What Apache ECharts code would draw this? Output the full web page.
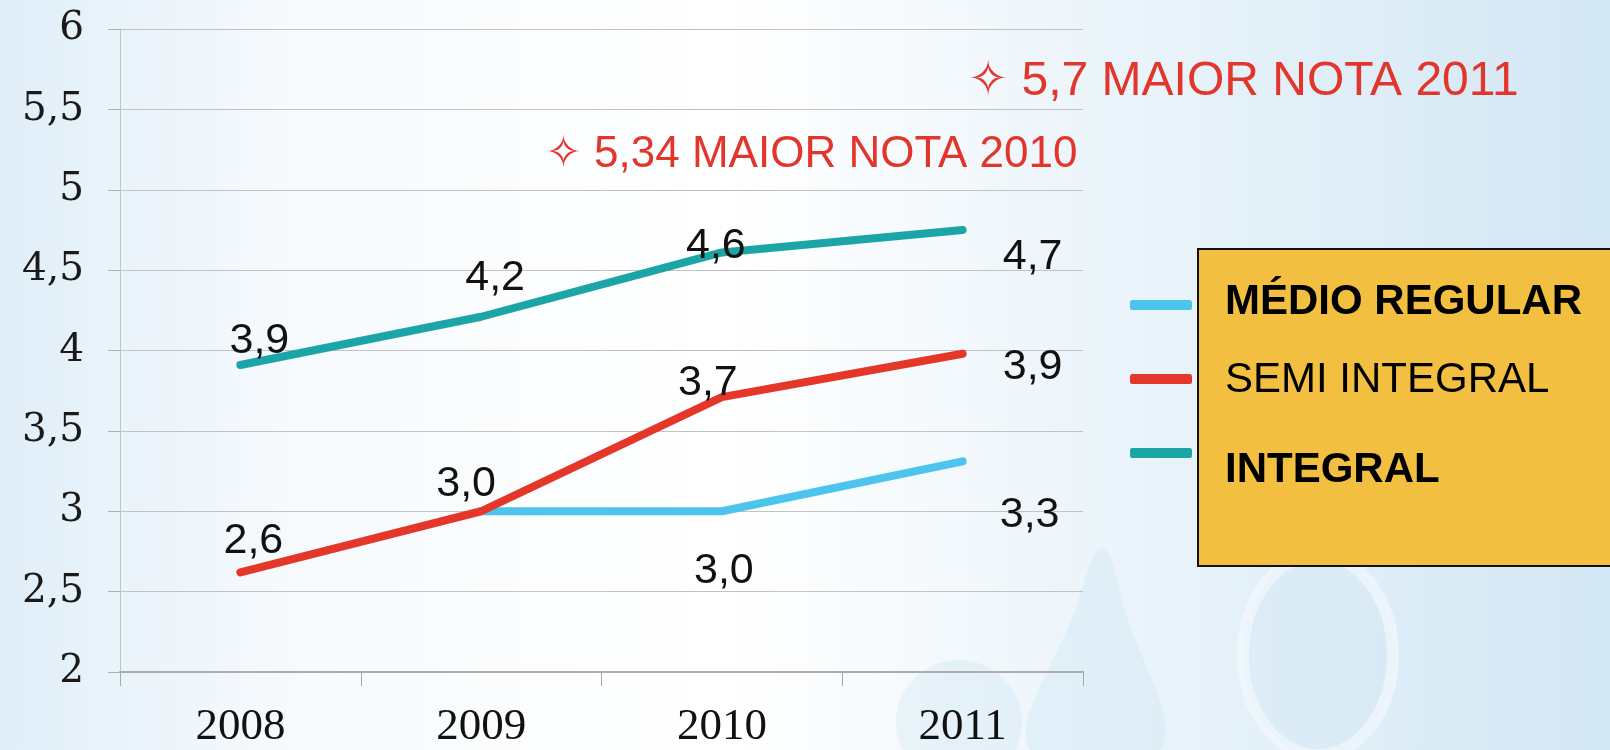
<!DOCTYPE html>
<html>
<head>
<meta charset="utf-8">
<script src="https://cdn.jsdelivr.net/npm/echarts@6/dist/echarts.min.js"></script>
<style>
  html, body { margin: 0; padding: 0; }
  #main { width: 1610px; height: 750px; }
</style>
</head>
<body>
<div id="main"></div>
<script>
// data
const YEARS = ['2008', '2009', '2010', '2011'];
const MEDIO_REGULAR = ['-', 3.0, 3.0, 3.31];
const SEMI_INTEGRAL = [2.62, 3.0, 3.71, 3.98];
const INTEGRAL = [3.91, 4.21, 4.61, 4.75];
// the labels printed on the chart (as written in the original)
const MEDIO_REGULAR_LABELS = ['', '', '3,0', '3,3'];
const SEMI_INTEGRAL_LABELS = ['2,6', '3,0', '3,7', '3,9'];
const INTEGRAL_LABELS = ['3,9', '4,2', '4,6', '4,7'];
const NOTES = ['\u2727 5,7 MAIOR NOTA 2011', '\u2727 5,34 MAIOR NOTA 2010'];
const BOX_LINES = ['MÉDIO REGULAR', 'SEMI INTEGRAL', 'INTEGRAL'];

var chartDom = document.getElementById('main');
var myChart = echarts.init(chartDom);

// label offsets from each point (px)
const offBlue = [[0, 0], [0, 0], [2, 60], [67, 54]];
const offRed = [[13, -31], [-15, -27], [-14, -14], [70, 13]];
const offTeal = [[19, -24], [14, -39], [-6, -6], [70, 27]];

function pts(values, labels, offs) {
  return values.map(function (v, i) {
    return {
      value: v,
      label: {
        show: labels[i] !== '',
        formatter: labels[i],
        position: 'inside',
        offset: offs[i]
      }
    };
  });
}

const labelStyle = {
  color: '#111',
  fontSize: 43,
  fontFamily: 'Liberation Sans, Arial, sans-serif'
};

function lineSeries(name, color, values, labels, offs) {
  return {
    name: name,
    type: 'line',
    data: pts(values, labels, offs),
    symbol: 'circle',
    symbolSize: 1,
    showSymbol: true,
    connectNulls: false,
    lineStyle: { color: color, width: 8, cap: 'round', join: 'round' },
    itemStyle: { color: color },
    label: labelStyle,
    emphasis: { disabled: true }
  };
}

function legendAt(name, top) {
  return {
    data: [name],
    left: 1130,
    top: top,
    padding: 0,
    icon: 'roundRect',
    itemWidth: 62,
    itemHeight: 10,
    textStyle: { fontSize: 8, color: '#333' }
  };
}

let option = {
  backgroundColor: new echarts.graphic.LinearGradient(0, 0, 1, 0, [
    { offset: 0, color: '#e0eef8' },
    { offset: 0.18, color: '#f6fafd' },
    { offset: 0.45, color: '#ffffff' },
    { offset: 0.65, color: '#eef6fb' },
    { offset: 1, color: '#d3e7f4' }
  ]),
  animation: false,
  grid: { left: 120, right: 527, top: 29, bottom: 72 },
  legend: [
    legendAt('MÉDIO REGULAR', 300),
    legendAt('SEMI INTEGRAL', 374),
    legendAt('INTEGRAL', 448)
  ],
  xAxis: {
    type: 'category',
    data: YEARS,
    boundaryGap: true,
    axisLine: { lineStyle: { color: '#adadad', width: 2 } },
    axisTick: { show: true, length: 14, lineStyle: { color: '#a8a8a8' } },
    axisLabel: {
      color: '#111',
      fontSize: 45,
      margin: 33,
      fontFamily: 'Liberation Serif, Times New Roman, serif'
    }
  },
  yAxis: {
    type: 'value',
    min: 2,
    max: 6,
    interval: 0.5,
    axisLine: { show: true, lineStyle: { color: '#c4c4c4' } },
    axisTick: { show: true, length: 12, lineStyle: { color: '#b0b0b0' } },
    splitLine: { lineStyle: { color: '#c2c2c2', width: 1 } },
    axisLabel: {
      color: '#1a1a1a',
      fontSize: 39,
      margin: 36,
      fontFamily: 'DejaVu Serif, serif',
      formatter: function (v) { return String(v).replace('.', ','); }
    }
  },
  graphic: [
    // faint watermark shapes in the background
    {
      type: 'polygon', z: -10, silent: true,
      shape: { points: [[1030, 750], [1075, 610], [1102, 548], [1125, 610], [1160, 750]], smooth: 0.4 },
      style: { fill: 'rgba(195,222,240,0.28)' }
    },
    {
      type: 'ellipse', z: -10, silent: true,
      shape: { cx: 959, cy: 722, rx: 63, ry: 62 },
      style: { fill: 'rgba(195,222,240,0.28)' }
    },
    {
      type: 'ellipse', z: -10, silent: true,
      shape: { cx: 1318, cy: 655, rx: 75, ry: 100 },
      style: { fill: 'rgba(205,228,243,0.3)', stroke: 'rgba(245,250,253,0.6)', lineWidth: 12 }
    },
    {
      type: 'text', left: 968, top: 58, z: 10,
      style: {
        text: NOTES[0], fill: '#e2352c', fontSize: 48,
        fontFamily: 'Liberation Sans, DejaVu Sans, sans-serif'
      }
    },
    {
      type: 'text', left: 545, top: 133, z: 10,
      style: {
        text: NOTES[1], fill: '#e2352c', fontSize: 44,
        fontFamily: 'Liberation Sans, DejaVu Sans, sans-serif'
      }
    },
    {
      type: 'rect', z: 20,
      shape: { x: 1198, y: 249, width: 430, height: 317 },
      style: { fill: '#f3bf40', stroke: '#111', lineWidth: 2 }
    },
    {
      type: 'text', left: 1225, top: 281, z: 21,
      style: {
        text: BOX_LINES[0], fill: '#000', fontSize: 42, fontWeight: 'bold',
        fontFamily: 'Liberation Sans, Arial, sans-serif'
      }
    },
    {
      type: 'text', left: 1225, top: 359, z: 21,
      style: {
        text: BOX_LINES[1], fill: '#000', fontSize: 42,
        fontFamily: 'Liberation Sans, Arial, sans-serif'
      }
    },
    {
      type: 'text', left: 1225, top: 449, z: 21,
      style: {
        text: BOX_LINES[2], fill: '#000', fontSize: 42, fontWeight: 'bold',
        fontFamily: 'Liberation Sans, Arial, sans-serif'
      }
    }
  ],
  series: [
    lineSeries('MÉDIO REGULAR', '#4cc4eb', MEDIO_REGULAR, MEDIO_REGULAR_LABELS, offBlue),
    lineSeries('SEMI INTEGRAL', '#e5362a', SEMI_INTEGRAL, SEMI_INTEGRAL_LABELS, offRed),
    lineSeries('INTEGRAL', '#1ca5a7', INTEGRAL, INTEGRAL_LABELS, offTeal)
  ]
};
option && myChart.setOption(option);
</script>
</body>
</html>
